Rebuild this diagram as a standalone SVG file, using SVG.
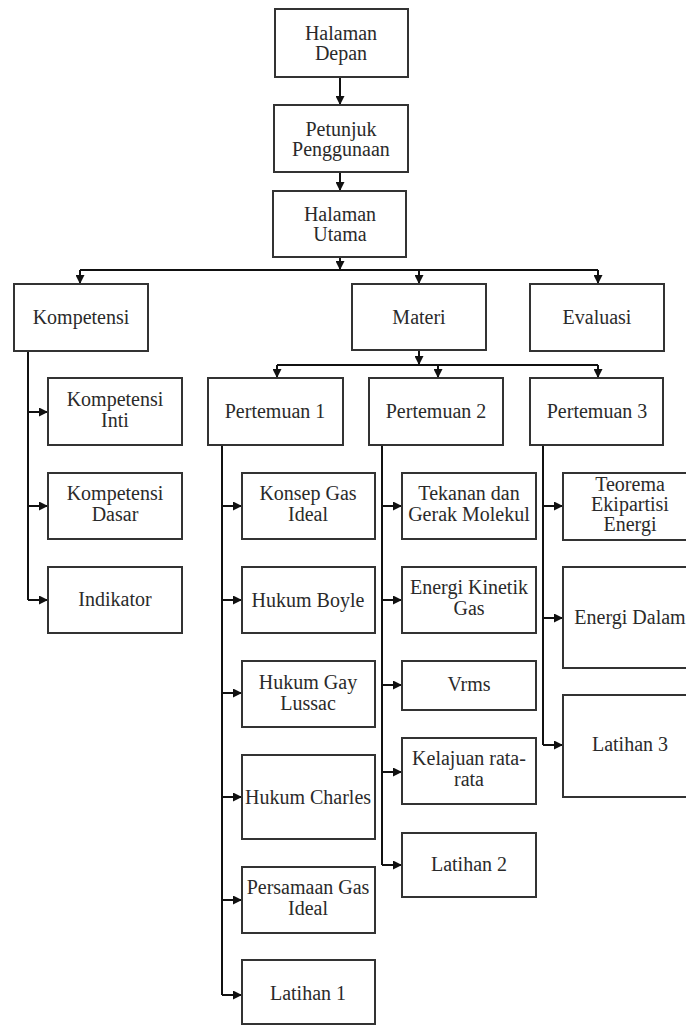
<svg xmlns="http://www.w3.org/2000/svg" width="686" height="1026" viewBox="0 0 686 1026">
<defs>
<style>
.box{fill:#fff;stroke:#333;stroke-width:2}
.t{font-family:"Liberation Serif","Times New Roman",serif;font-size:20px;fill:#2a2a2a;text-anchor:middle}
.c{fill:none;stroke:#111;stroke-width:2}
</style>
<marker id="ah" viewBox="0 0 10 10" refX="10" refY="5" markerWidth="9" markerHeight="9" markerUnits="userSpaceOnUse" orient="auto">
<path d="M0,0 L10,5 L0,10 z" fill="#111"/>
</marker>
</defs>
<rect width="686" height="1026" fill="#fff"/>
<g id="connectors">
<path class="c" d="M340,77 V105" marker-end="url(#ah)"/>
<path class="c" d="M340,172 V191" marker-end="url(#ah)"/>
<path class="c" d="M340,257 V270" marker-end="url(#ah)"/>
<path class="c" d="M80,270 H598"/>
<path class="c" d="M80,270 V284" marker-end="url(#ah)"/>
<path class="c" d="M419,270 V284" marker-end="url(#ah)"/>
<path class="c" d="M598,270 V284" marker-end="url(#ah)"/>
<path class="c" d="M419,350 V365" marker-end="url(#ah)"/>
<path class="c" d="M277,365 H598"/>
<path class="c" d="M277,365 V378" marker-end="url(#ah)"/>
<path class="c" d="M438,365 V378" marker-end="url(#ah)"/>
<path class="c" d="M598,365 V378" marker-end="url(#ah)"/>
<path class="c" d="M28,351 V600"/>
<path class="c" d="M28,412 H48" marker-end="url(#ah)"/>
<path class="c" d="M28,506 H48" marker-end="url(#ah)"/>
<path class="c" d="M28,600 H48" marker-end="url(#ah)"/>
<path class="c" d="M222,445 V995"/>
<path class="c" d="M222,506 H242" marker-end="url(#ah)"/>
<path class="c" d="M222,600 H242" marker-end="url(#ah)"/>
<path class="c" d="M222,693 H242" marker-end="url(#ah)"/>
<path class="c" d="M222,797 H242" marker-end="url(#ah)"/>
<path class="c" d="M222,900 H242" marker-end="url(#ah)"/>
<path class="c" d="M222,995 H242" marker-end="url(#ah)"/>
<path class="c" d="M382,445 V865"/>
<path class="c" d="M382,506 H402" marker-end="url(#ah)"/>
<path class="c" d="M382,600 H402" marker-end="url(#ah)"/>
<path class="c" d="M382,685 H402" marker-end="url(#ah)"/>
<path class="c" d="M382,772 H402" marker-end="url(#ah)"/>
<path class="c" d="M382,865 H402" marker-end="url(#ah)"/>
<path class="c" d="M543,445 V745"/>
<path class="c" d="M543,506 H563" marker-end="url(#ah)"/>
<path class="c" d="M543,618 H563" marker-end="url(#ah)"/>
<path class="c" d="M543,745 H563" marker-end="url(#ah)"/>
</g>
<g id="halaman-depan"><rect class="box" x="275" y="9" width="133" height="68"/><text class="t" x="341" y="40">Halaman<tspan x="341" dy="20">Depan</tspan></text></g>
<g id="petunjuk"><rect class="box" x="274" y="105" width="134" height="67"/><text class="t" x="341" y="136">Petunjuk<tspan x="341" dy="20">Penggunaan</tspan></text></g>
<g id="halaman-utama"><rect class="box" x="273" y="191" width="133" height="66"/><text class="t" x="340" y="221">Halaman<tspan x="340" dy="20">Utama</tspan></text></g>
<g id="kompetensi"><rect class="box" x="14" y="284" width="134" height="67"/><text class="t" x="81" y="324">Kompetensi</text></g>
<g id="materi"><rect class="box" x="352" y="284" width="134" height="66"/><text class="t" x="419" y="324">Materi</text></g>
<g id="evaluasi"><rect class="box" x="530" y="284" width="134" height="67"/><text class="t" x="597" y="324">Evaluasi</text></g>
<g id="kompetensi-inti"><rect class="box" x="48" y="378" width="134" height="67"/><text class="t" x="115" y="406">Kompetensi<tspan x="115" dy="21">Inti</tspan></text></g>
<g id="kompetensi-dasar"><rect class="box" x="48" y="473" width="134" height="66"/><text class="t" x="115" y="500">Kompetensi<tspan x="115" dy="21">Dasar</tspan></text></g>
<g id="indikator"><rect class="box" x="48" y="567" width="134" height="66"/><text class="t" x="115" y="606">Indikator</text></g>
<g id="pertemuan-1"><rect class="box" x="208" y="378" width="135" height="67"/><text class="t" x="275" y="418">Pertemuan 1</text></g>
<g id="pertemuan-2"><rect class="box" x="369" y="378" width="134" height="67"/><text class="t" x="436" y="418">Pertemuan 2</text></g>
<g id="pertemuan-3"><rect class="box" x="530" y="378" width="133" height="67"/><text class="t" x="597" y="418">Pertemuan 3</text></g>
<g id="konsep-gas"><rect class="box" x="242" y="473" width="133" height="66"/><text class="t" x="308" y="500">Konsep Gas<tspan x="308" dy="21">Ideal</tspan></text></g>
<g id="hukum-boyle"><rect class="box" x="242" y="567" width="133" height="66"/><text class="t" x="308" y="607">Hukum Boyle</text></g>
<g id="hukum-gay-lussac"><rect class="box" x="242" y="661" width="133" height="66"/><text class="t" x="308" y="689">Hukum Gay<tspan x="308" dy="21">Lussac</tspan></text></g>
<g id="hukum-charles"><rect class="box" x="242" y="755" width="133" height="84"/><text class="t" x="308" y="804">Hukum Charles</text></g>
<g id="persamaan-gas"><rect class="box" x="242" y="867" width="133" height="66"/><text class="t" x="308" y="894">Persamaan Gas<tspan x="308" dy="21">Ideal</tspan></text></g>
<g id="latihan-1"><rect class="box" x="242" y="960" width="133" height="64"/><text class="t" x="308" y="1000">Latihan 1</text></g>
<g id="tekanan"><rect class="box" x="402" y="473" width="134" height="66"/><text class="t" x="469" y="500">Tekanan dan<tspan x="469" dy="21">Gerak Molekul</tspan></text></g>
<g id="energi-kinetik"><rect class="box" x="402" y="567" width="134" height="66"/><text class="t" x="469" y="594">Energi Kinetik<tspan x="469" dy="21">Gas</tspan></text></g>
<g id="vrms"><rect class="box" x="402" y="661" width="134" height="49"/><text class="t" x="469" y="691">Vrms</text></g>
<g id="kelajuan"><rect class="box" x="402" y="738" width="134" height="66"/><text class="t" x="469" y="765">Kelajuan rata-<tspan x="469" dy="21">rata</tspan></text></g>
<g id="latihan-2"><rect class="box" x="402" y="833" width="134" height="64"/><text class="t" x="469" y="871">Latihan 2</text></g>
<g id="teorema"><rect class="box" x="563" y="473" width="134" height="67"/><text class="t" x="630" y="491">Teorema<tspan x="630" dy="20">Ekipartisi</tspan><tspan x="630" dy="20">Energi</tspan></text></g>
<g id="energi-dalam"><rect class="box" x="563" y="567" width="134" height="101"/><text class="t" x="630" y="624">Energi Dalam</text></g>
<g id="latihan-3"><rect class="box" x="563" y="695" width="134" height="102"/><text class="t" x="630" y="751">Latihan 3</text></g>
</svg>
